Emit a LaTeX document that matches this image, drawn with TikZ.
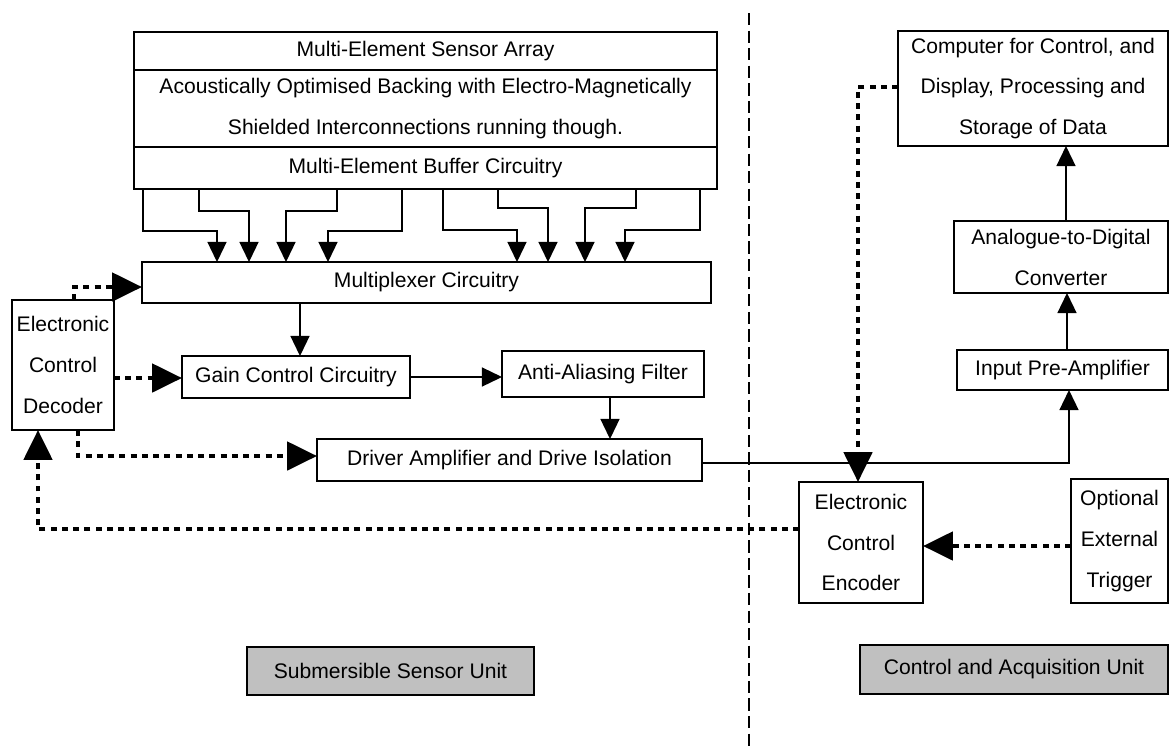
\documentclass[tikz,border=0pt]{standalone}
\usepackage{fontspec}
\setmainfont{Liberation Sans}
\usetikzlibrary{positioning,arrows.meta}
\definecolor{unitgray}{HTML}{C0C0C0}

\begin{document}
\begin{tikzpicture}[
    x=0.2mm, y=-0.2mm,
    box/.style={draw, line width=0.85pt, inner sep=0pt, outer sep=0pt, align=center,
      font=\fontsize{12}{23.3}\selectfont},
    unit/.style={box, fill=unitgray, line width=1.2pt},
    sig/.style={-{Triangle[length=11.4pt,width=10.8pt]}, line width=0.85pt},
    ctl/.style={-{Triangle[length=17pt,width=16pt]}, line width=2.5pt, dash pattern=on 3.4pt off 3pt},
  ]
  \useasboundingbox (0,0) rectangle (1170,751);

  % Sensor stack
  \node[box, anchor=north west, minimum width=116.6mm, minimum height=7.6mm] (sensor) at (134,32) {Multi-Element Sensor Array};
  \node[box, below=0pt of sensor, minimum width=116.6mm, minimum height=15.4mm] (backing)
    {Acoustically Optimised Backing with Electro-Magnetically\\Shielded Interconnections running though.};
  \node[box, below=0pt of backing, minimum width=116.6mm, minimum height=8.4mm] (buffer) {Multi-Element Buffer Circuitry};

  % Submersible side
  \node[box, anchor=north west, minimum width=113.8mm, minimum height=8.2mm] (mux) at (142,262) {Multiplexer Circuitry};
  \node[box, anchor=north west, minimum width=20.4mm, minimum height=26mm] (dec) at (12,300) {Electronic\\Control\\Decoder};
  \node[box, anchor=north west, minimum width=45.6mm, minimum height=8.4mm] (gain) at (182,356) {Gain Control Circuitry};
  \node[box, anchor=north west, minimum width=40.4mm, minimum height=9.2mm] (aaf) at (502,351) {Anti-Aliasing Filter};
  \node[box, anchor=north west, minimum width=77mm, minimum height=8.4mm] (drv) at (317,439) {Driver Amplifier and Drive Isolation};

  % Acquisition side
  \node[box, anchor=north west, minimum width=54mm, minimum height=23mm] (comp) at (898,31) {Computer for Control, and\\Display, Processing and\\Storage of Data};
  \node[box, anchor=north west, minimum width=42.8mm, minimum height=14.4mm] (adc) at (954,221) {Analogue-to-Digital\\Converter};
  \node[box, anchor=north west, minimum width=42.2mm, minimum height=8mm] (pre) at (957,350) {Input Pre-Amplifier};
  \node[box, anchor=north west, minimum width=24.8mm, minimum height=24.2mm] (enc) at (799,482) {Electronic\\Control\\Encoder};
  \node[box, anchor=north west, minimum width=19.4mm, minimum height=24.8mm] (trig) at (1071,479) {Optional\\External\\Trigger};

  % Unit labels
  \node[unit, anchor=north west, minimum width=57.4mm, minimum height=9.6mm] (subunit) at (247,647) {Submersible Sensor Unit};
  \node[unit, anchor=north west, minimum width=61.6mm, minimum height=9.8mm] (acqunit) at (860,645) {Control and Acquisition Unit};

  % Divider
  \draw[line width=0.85pt, dash pattern=on 7pt off 3pt] (749,13) -- (749,751);

  % Buffer outputs into multiplexer
  \foreach \a/\b/\h in {143/217/231, 199/249/211, 337/286/211, 402/328/231,
                        443/517/230, 498/548/208, 636/585/208, 700/625/230}
    \draw[sig] (buffer.south -| \a,0) |- (\b,\h) -- (mux.north -| \b,0);

  % Signal chain
  \draw[sig] (mux.south -| 300,0) -- (gain.north -| 300,0);
  \draw[sig] (gain.east) -- (gain.east -| aaf.west);
  \draw[sig] (aaf.south -| 610,0) -- (drv.north -| 610,0);
  \draw[sig] (drv.east |- 0,463) -| (pre.south -| 1069,0);
  \draw[sig] (pre.north -| 1067,0) -- (adc.south -| 1067,0);
  \draw[sig] (adc.north -| 1066,0) -- (comp.south -| 1066,0);

  % Control paths
  \draw[ctl] (comp.west |- 0,87) -| (enc.north -| 858,0);
  \draw[ctl] (trig.west |- 0,546) -- (enc.east |- 0,546);
  \draw[ctl] (enc.west |- 0,529) -| (dec.south -| 38,0);
  \draw[ctl] (dec.north -| 74,0) |- (mux.west |- 0,287);
  \draw[ctl] (dec.east |- 0,378) -- (gain.west |- 0,378);
  \draw[ctl] (dec.south -| 78,0) |- (drv.west |- 0,456);
\end{tikzpicture}
\end{document}
